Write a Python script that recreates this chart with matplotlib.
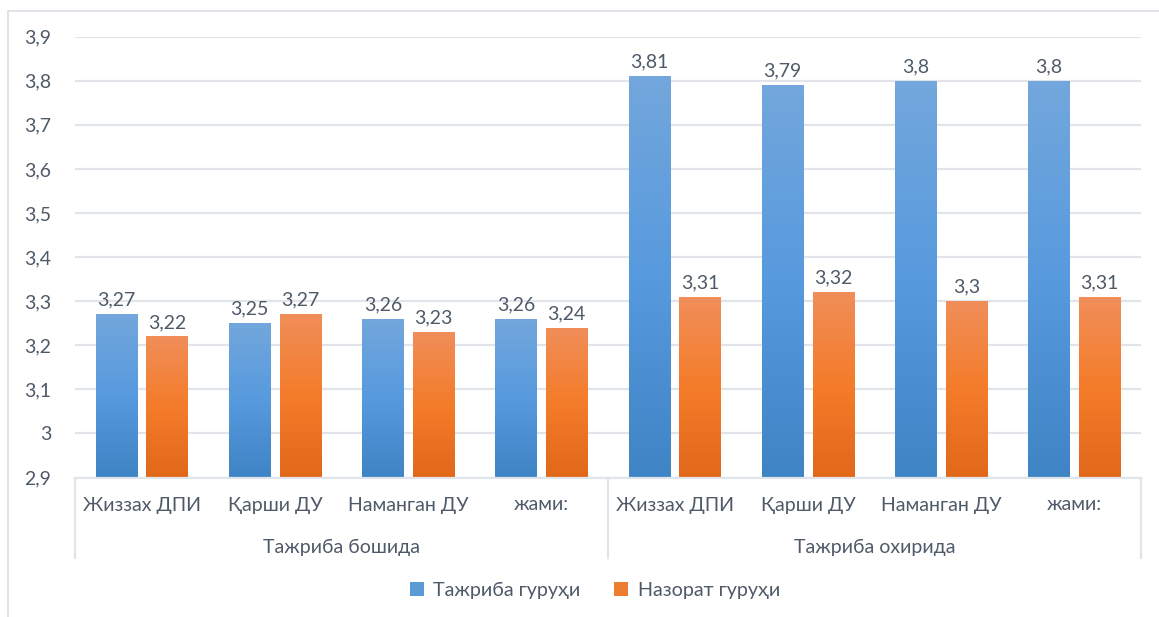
import matplotlib
matplotlib.use("Agg")
import matplotlib.pyplot as plt
import numpy as np
from matplotlib.patches import Rectangle, Patch
from matplotlib.colors import LinearSegmentedColormap
import matplotlib.transforms as mtransforms

plt.rcParams['font.family'] = ['Lato', 'Noto Sans', 'DejaVu Sans']

groups = ["Тажриба бошида", "Тажриба охирида"]
categories = ["Жиззах ДПИ", "Қарши ДУ", "Наманган ДУ", "жами:"]
series_names = ["Тажриба гуруҳи", "Назорат гуруҳи"]
experimental = [3.27, 3.25, 3.26, 3.26, 3.81, 3.79, 3.80, 3.80]
control = [3.22, 3.27, 3.23, 3.24, 3.31, 3.32, 3.30, 3.31]
yticks = [2.9, 3.0, 3.1, 3.2, 3.3, 3.4, 3.5, 3.6, 3.7, 3.8, 3.9]

W, H = 1159, 617
fig = plt.figure(figsize=(W / 100, H / 100), dpi=100)
TEXT = '#4f5a68'
GRID = '#e1e5eb'
FS = 14

# outer chart border
fig.patches.append(Rectangle((8 / W, -0.1), 1.2, 0.1 + (H - 11) / H,
                             transform=fig.transFigure, fill=False,
                             edgecolor='#d9dde3', linewidth=1.2))

left, right = 75 / W, 1141 / W
ybot, ytop = 1 - 477.5 / H, 1 - 36.7 / H
ax = fig.add_axes([left, ybot, right - left, ytop - ybot])

n = len(experimental)
x = np.arange(n)
bw = 0.31
off = 0.19

ax.set_xlim(-0.5, n - 0.5)
ax.set_ylim(2.9, 3.9)
ax.set_yticks(yticks)
ax.set_yticklabels([f"{v:g}".replace('.', ',') for v in yticks])
ax.yaxis.grid(True, color=GRID, linewidth=1.6)
ax.set_axisbelow(True)
for s in ['top', 'right', 'left']:
    ax.spines[s].set_visible(False)
ax.spines['bottom'].set_color(GRID)
ax.spines['bottom'].set_linewidth(1.6)
ax.tick_params(axis='y', length=0, pad=17, labelsize=FS, labelcolor=TEXT)
ax.set_xticks([])

blue_cmap = LinearSegmentedColormap.from_list('b', ['#3f84c5', '#579ade', '#73a7dc'])
orange_cmap = LinearSegmentedColormap.from_list('o', ['#e2681a', '#f47c2a', '#f08e5a'])
grad = np.linspace(0, 1, 256).reshape(-1, 1)

def grad_bars(xs, vals, cmap):
    bars = ax.bar(xs, [v - 2.9 for v in vals], bw, bottom=2.9, color='none',
                  edgecolor='none', zorder=2)
    for b in bars:
        x0, y0 = b.get_x(), b.get_y()
        w, h = b.get_width(), b.get_height()
        im = ax.imshow(grad, cmap=cmap, origin='lower', aspect='auto',
                       extent=[x0, x0 + w, y0, y0 + h], zorder=2)
        im.set_clip_path(b)
    return bars

grad_bars(x - off, experimental, blue_cmap)
grad_bars(x + off, control, orange_cmap)
ax.set_xlim(-0.5, n - 0.5)
ax.set_ylim(2.9, 3.9)

def fmt(v):
    return f"{v:g}".replace('.', ',')

for xi, v in zip(x - off, experimental):
    ax.annotate(fmt(v), (xi, v), xytext=(0, 4), textcoords='offset points',
                ha='center', va='bottom', fontsize=FS, color=TEXT)
for xi, v in zip(x + off, control):
    ax.annotate(fmt(v), (xi, v), xytext=(0, 4), textcoords='offset points',
                ha='center', va='bottom', fontsize=FS, color=TEXT)

# multi-level category axis
trans = mtransforms.blended_transform_factory(ax.transData, ax.transAxes)
ah = 477.5 - 36.7
y_inner = -(505 - 477.5) / ah
y_outer = -(547 - 477.5) / ah
y_sep = -(558 - 477.5) / ah
ncat = len(categories)
for i in range(n):
    ax.text(x[i], y_inner, categories[i % ncat], transform=trans, ha='center',
            va='center', fontsize=FS, color=TEXT)
for g, name in enumerate(groups):
    ax.text(g * ncat + (ncat - 1) / 2, y_outer, name, transform=trans,
            ha='center', va='center', fontsize=FS, color=TEXT)
for g in range(len(groups) + 1):
    xs = g * ncat - 0.5
    ax.plot([xs, xs], [0, y_sep], transform=trans, color=GRID, linewidth=1.6,
            clip_on=False)

handles = [Patch(facecolor='#5b9bd5'), Patch(facecolor='#ed7d31')]
fig.legend(handles, series_names, loc='center', bbox_to_anchor=(595 / W, 1 - 590 / H),
           ncol=2, frameon=False, fontsize=14.2, labelcolor=TEXT,
           handlelength=0.7, handleheight=0.7, handletextpad=0.5, columnspacing=1.7)

fig.savefig('out.png', dpi=100)
